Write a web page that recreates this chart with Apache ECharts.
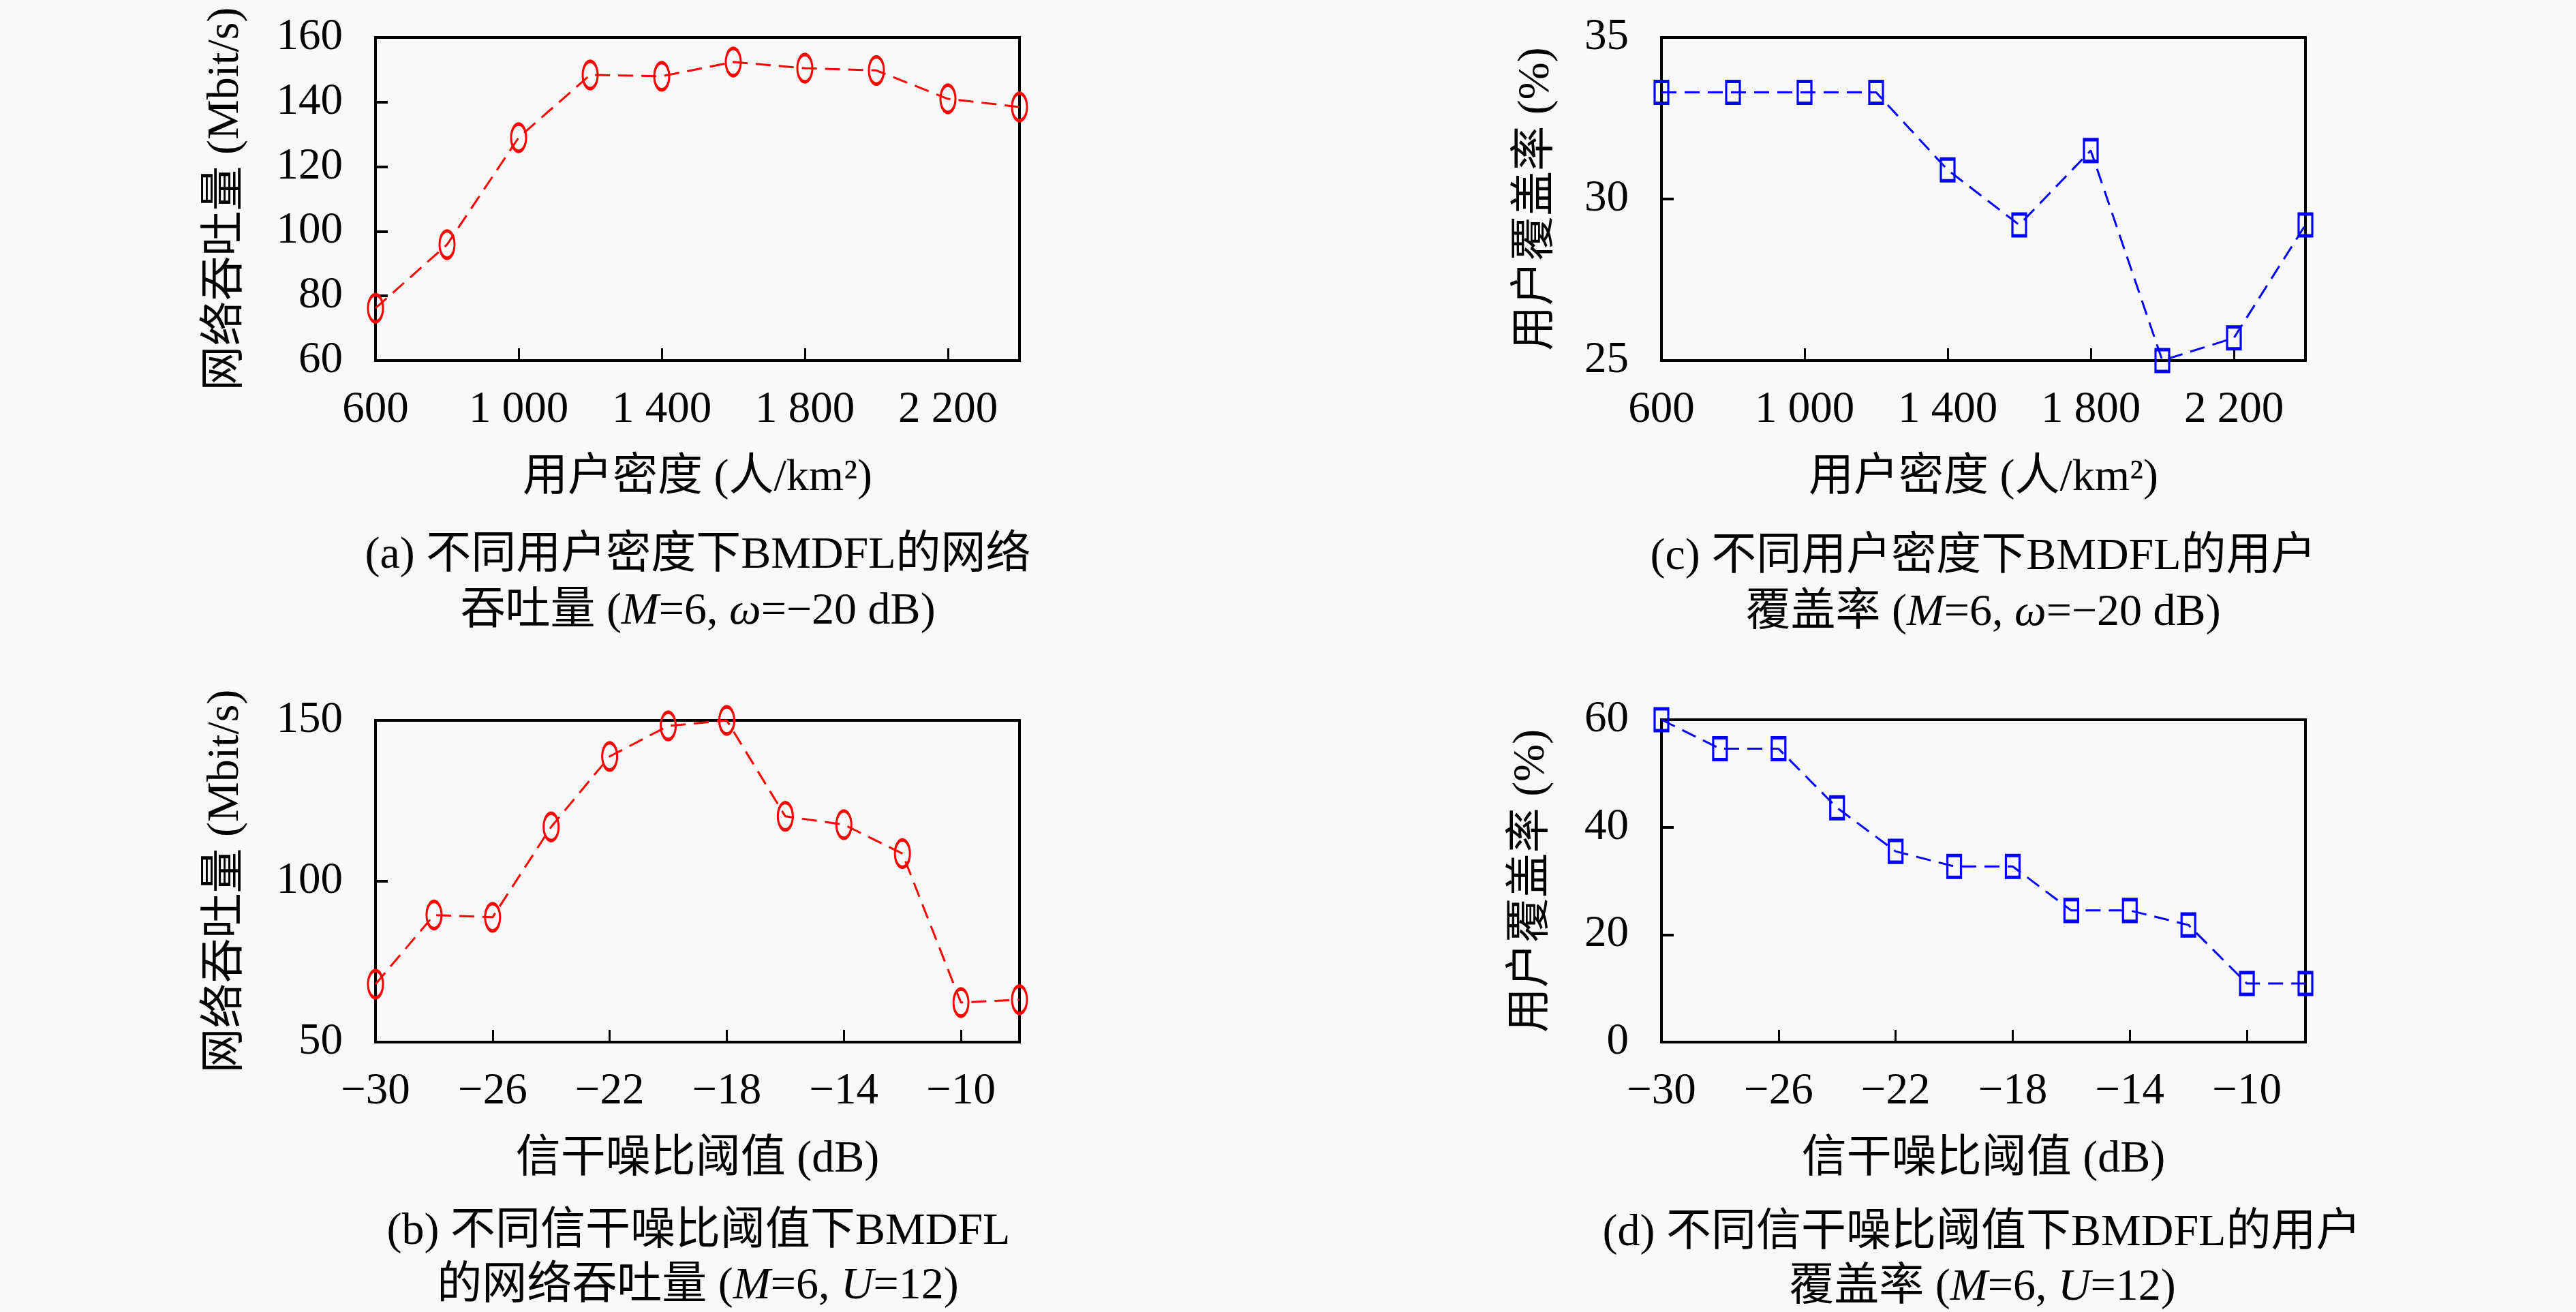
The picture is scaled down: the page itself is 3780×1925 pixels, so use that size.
<!DOCTYPE html>
<html>
<head>
<meta charset="utf-8">
<title>BMDFL</title>
<script src="https://cdn.jsdelivr.net/npm/echarts@6/dist/echarts.min.js"></script>
<style>
    html, body { margin: 0; padding: 0; background: #f9f9f9; }
    #chart { width: 3780px; height: 1925px; }
</style>
</head>
<body>
<div id="chart"></div>
<script>
// x 轴取值
const density = [600, 800, 1000, 1200, 1400, 1600, 1800, 2000, 2200, 2400];
const snr = [-30, -28, -26, -24, -22, -20, -18, -16, -14, -12, -10, -8];

// (a) 网络吞吐量 vs 用户密度
const throughputByDensity = [76.2, 95.9, 129.0, 148.4, 148.0, 152.4, 150.5, 149.8, 141.0, 138.5];
// (c) 用户覆盖率 vs 用户密度
const coverageByDensity = [33.3, 33.3, 33.3, 33.3, 30.9, 29.2, 31.5, 25.0, 25.7, 29.2];
// (b) 网络吞吐量 vs 信干噪比阈值
const throughputBySnr = [68.0, 89.5, 88.8, 116.9, 138.8, 148.3, 150.0, 120.2, 117.6, 108.6, 62.3, 63.2];
// (d) 用户覆盖率 vs 信干噪比阈值
const coverageBySnr = [60.0, 54.6, 54.6, 43.6, 35.5, 32.7, 32.7, 24.5, 24.5, 21.8, 10.9, 10.9];

const FONT = "'Liberation Serif', 'Noto Sans CJK SC', serif";
const ELLIPSE = 'path://M50,0 A50,50 0 1,1 50,100 A50,50 0 1,1 50,0 Z';

function fmtDensity(v) {
    v = String(v);
    return v.length > 3 ? v.slice(0, v.length - 3) + ' ' + v.slice(-3) : v;
}
function fmtSnr(v) {
    return String(v).replace('-', '\u2212');
}

const grids = [
    { left: 551, top: 55, width: 945, height: 474 },
    { left: 551, top: 1057, width: 945, height: 472 },
    { left: 2438, top: 55, width: 945, height: 474 },
    { left: 2438, top: 1056, width: 945, height: 473 }
];

function xAxisOf(idx, data, fmt, name) {
    return {
        type: 'category',
        gridIndex: idx,
        data: data,
        boundaryGap: false,
        name: name,
        nameLocation: 'middle',
        nameGap: 140,
        nameTextStyle: { fontSize: 66, fontFamily: FONT, color: '#000' },
        axisLine: { show: true, lineStyle: { color: '#000', width: 4 } },
        axisTick: { show: true, inside: true, interval: 1, length: 18, lineStyle: { color: '#000', width: 3 } },
        axisLabel: { interval: 1, margin: 40, fontSize: 65, fontFamily: FONT, color: '#000', formatter: fmt },
        splitLine: { show: false }
    };
}

function yAxisOf(idx, min, max, interval, name, gap) {
    return {
        type: 'value',
        gridIndex: idx,
        min: min,
        max: max,
        interval: interval,
        name: name,
        nameLocation: 'middle',
        nameGap: gap,
        nameTextStyle: { fontSize: 66, fontFamily: FONT, color: '#000' },
        axisLine: { show: true, lineStyle: { color: '#000', width: 4 } },
        axisTick: { show: true, inside: true, length: 18, lineStyle: { color: '#000', width: 4 } },
        axisLabel: { margin: 48, fontSize: 65, fontFamily: FONT, color: '#000' },
        splitLine: { show: false }
    };
}

function lineSeries(idx, data, color, symbol, size) {
    return {
        type: 'line',
        xAxisIndex: idx,
        yAxisIndex: idx,
        data: data,
        clip: false,
        symbol: symbol,
        symbolSize: size,
        showAllSymbol: true,
        lineStyle: { color: color, width: 3, type: [22, 12] },
        itemStyle: { color: 'transparent', borderColor: color, borderWidth: 4 },
        emphasis: { disabled: true }
    };
}

function caption(x, y, text) {
    return {
        type: 'text',
        x: x,
        y: y,
        style: {
            text: text,
            align: 'center',
            verticalAlign: 'middle',
            fontSize: 66,
            fontFamily: FONT,
            fill: '#000',
            rich: {
                i: { fontStyle: 'italic', fontSize: 66, fontFamily: FONT, fill: '#000' }
            }
        }
    };
}

let myChart = echarts.init(document.getElementById('chart'));

let option = {
    backgroundColor: '#f9f9f9',
    animation: false,
    grid: grids.map(g => Object.assign({
        show: true,
        borderColor: '#000',
        borderWidth: 4,
        backgroundColor: 'transparent'
    }, g)),
    xAxis: [
        xAxisOf(0, density, fmtDensity, '用户密度 (人/km²)'),
        xAxisOf(1, snr, fmtSnr, '信干噪比阈值 (dB)'),
        xAxisOf(2, density, fmtDensity, '用户密度 (人/km²)'),
        xAxisOf(3, snr, fmtSnr, '信干噪比阈值 (dB)')
    ],
    yAxis: [
        yAxisOf(0, 60, 160, 20, '网络吞吐量 (Mbit/s)', 186),
        yAxisOf(1, 50, 150, 50, '网络吞吐量 (Mbit/s)', 186),
        yAxisOf(2, 25, 35, 5, '用户覆盖率 (%)', 150),
        yAxisOf(3, 0, 60, 20, '用户覆盖率 (%)', 157)
    ],
    series: [
        lineSeries(0, throughputByDensity, '#ff0000', ELLIPSE, [22, 40]),
        lineSeries(1, throughputBySnr, '#ff0000', ELLIPSE, [22, 40]),
        lineSeries(2, coverageByDensity, '#0000ff', 'rect', [20, 32]),
        lineSeries(3, coverageBySnr, '#0000ff', 'rect', [20, 32])
    ],
    graphic: [
        caption(1024, 816, '(a) 不同用户密度下BMDFL的网络'),
        caption(1024, 898, '吞吐量 ({i|M}=6, {i|ω}=\u221220 dB)'),
        caption(1025, 1808, '(b) 不同信干噪比阈值下BMDFL'),
        caption(1024, 1888, '的网络吞吐量 ({i|M}=6, {i|U}=12)'),
        caption(2910, 818, '(c) 不同用户密度下BMDFL的用户'),
        caption(2910, 900, '覆盖率 ({i|M}=6, {i|ω}=\u221220 dB)'),
        caption(2908, 1810, '(d) 不同信干噪比阈值下BMDFL的用户'),
        caption(2909, 1890, '覆盖率 ({i|M}=6, {i|U}=12)')
    ]
};

myChart.setOption(option);
</script>
</body>
</html>
